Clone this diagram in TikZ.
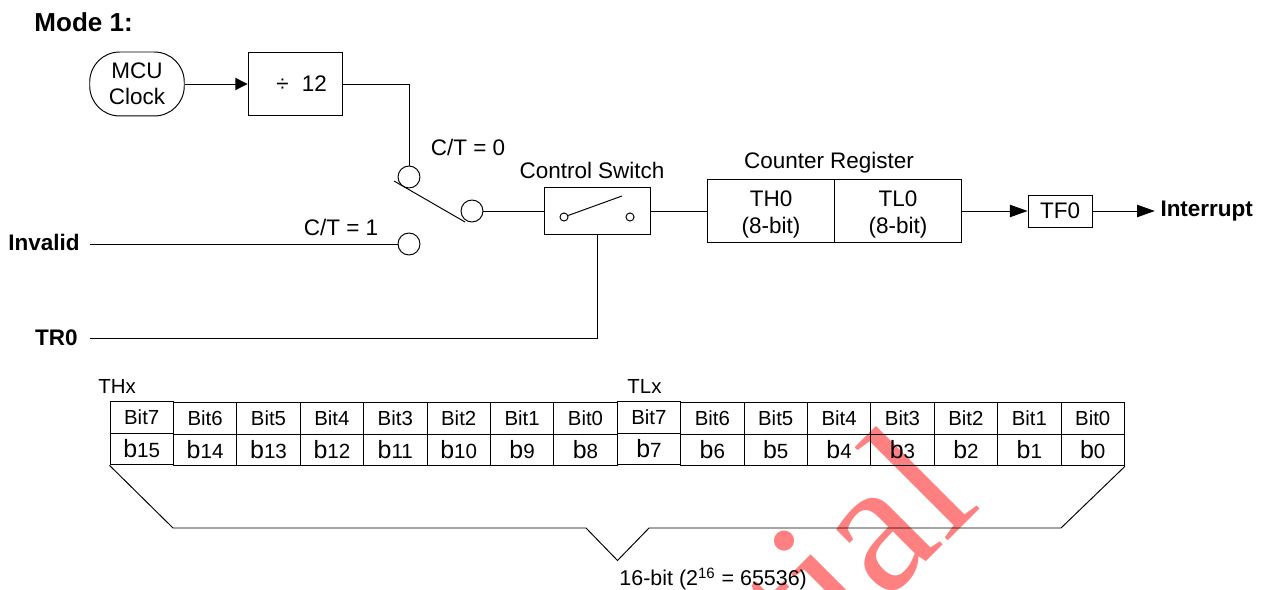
\documentclass[tikz,border=0pt]{standalone}
\usepackage{fontspec}
\setmainfont{Liberation Sans}
\newfontfamily\wmfont{Liberation Serif}
\usetikzlibrary{arrows.meta}
\tikzset{
  lbl/.style={inner sep=0pt,font=\fontsize{12.8pt}{15.5pt}\selectfont,align=center},
  bold/.style={inner sep=0pt,font=\fontsize{12.8pt}{15pt}\selectfont\bfseries},
  pin/.style={draw,circle,inner sep=0pt,minimum size=12.5pt},
  dot/.style={draw,circle,inner sep=0pt,minimum size=4.6pt},
  cell/.style={draw,inner sep=0pt,minimum width=36.1pt,minimum height=18.1pt},
  tip/.style={-{Triangle[length=7pt,width=7pt]}},
  longtip/.style={-{Triangle[length=10pt,width=7pt]}}
}
\newcommand{\bsub}[2]{{\fontsize{14.2pt}{16pt}\selectfont#1}{\fontsize{11.7pt}{14pt}\selectfont#2}}
\begin{document}
\begin{tikzpicture}[x=0.02cm,y=-0.02cm,line width=0.55pt]
  \useasboundingbox (0,0) rectangle (1266,590);
  \begin{scope}
    \clip (0,0) rectangle (1266,590);
    \node[rotate=45,inner sep=0pt,text=red!50,font=\fontsize{108pt}{108pt}\selectfont\wmfont] (wmark) at (851,546) {tial};
  \end{scope}
  % top row
  \node[bold,font=\fontsize{14.8pt}{17pt}\selectfont\bfseries,anchor=west] (mode) at (34,22) {Mode 1:};
  \node[draw,rounded corners=17pt,minimum width=53.8pt,minimum height=36.4pt,inner sep=0pt,lbl,font=\fontsize{12.8pt}{14.6pt}\selectfont] (clock) at (137,84) {MCU\\Clock};
  \node[draw,minimum width=54pt,minimum height=36.4pt,inner sep=0pt,lbl] (div) at (295.5,84) {\hspace{7pt}÷\hspace{4pt} 12};
  \draw[tip] (clock)--(div);
  % selector
  \node[pin] (pin0) at (409,177) {};
  \node[pin] (pin1) at (409,244) {};
  \node[pin] (pinout) at (472,211) {};
  \coordinate (levera) at (394,181);
  \coordinate (leverb) at (465,222);
  \draw (levera)--(leverb);
  \draw (div.east)-|(pin0.north);
  \node[lbl] (ct0) at (468,147) {C/T = 0};
  \node[lbl] (ct1) at (341,227) {C/T = 1};
  \node[bold,anchor=east] (invalid) at (80,242) {Invalid};
  \node[bold,anchor=east] (tr0) at (78,338) {TR0};
  \coordinate (invalidl) at (90,244);
  \coordinate (tr0l) at (90,338);
  \draw (invalidl)--(pin1);
  % control switch
  \node[draw,minimum width=60.3pt,minimum height=27.3pt,inner sep=0pt] (ctrl) at (597,211) {};
  \node[lbl,anchor=south] (ctrltxt) at (592,179) {Control Switch};
  \node[dot] (swa) at (564,217) {};
  \node[dot] (swb) at (630,217) {};
  \coordinate (swc) at (622,196);
  \draw (swa)--(swc);
  \draw (pinout)--(ctrl);
  \draw (tr0l)-|(ctrl.south);
  % counter
  \node[draw,minimum width=72.3pt,minimum height=35.8pt,inner sep=0pt,lbl] (th0) at (771,211) {\rule{0pt}{12.5pt}TH0\\(8-bit)};
  \node[draw,minimum width=72.3pt,minimum height=35.8pt,inner sep=0pt,lbl] (tl0) at (898,211) {\rule{0pt}{12.5pt}TL0\\(8-bit)};
  \node[lbl] (cnttxt) at (829,163) {Counter Register};
  \node[draw,minimum width=36.4pt,minimum height=18.2pt,inner sep=0pt,lbl] (tf0) at (1060,211) {TF0};
  \node[bold,anchor=west] (irq) at (1160,211) {Interrupt};
  \draw (ctrl)--(th0);
  \draw[longtip] (tl0)--(tf0);
  \draw[longtip,shorten >=3pt] (tf0)--(irq);
  % bit table
  \node[lbl,anchor=west,font=\fontsize{11.6pt}{14pt}\selectfont] (thx) at (98,386) {THx};
  \node[lbl,anchor=west,font=\fontsize{11.6pt}{14pt}\selectfont] (tlx) at (627,386) {TLx};
  \foreach \n/\t/\d/\y in {15/7/0/-1,14/6/1/0,13/5/2/0,12/4/3/0,11/3/4/0,10/2/5/0,9/1/6/0,8/0/7/0,7/7/8/-1,6/6/9/0,5/5/10/0,4/4/11/0,3/3/12/0,2/2/13/0,1/1/14/0,0/0/15/0}{
    \node[cell,font=\fontsize{11.6pt}{14pt}\selectfont] (bit\n) at ({141.7+63.4*\d},{418.5+\y}) {Bit\t};
    \node[cell] (b\n) at ({141.7+63.4*\d},{450+\y}) {\bsub{b}{\n}};
  }
  % brace
  \coordinate (bra) at (173,528);
  \coordinate (brb) at (586,528);
  \coordinate (brc) at (617.5,560.5);
  \coordinate (brd) at (649,528);
  \coordinate (bre) at (1061,528);
  \draw (b15.south west)--(bra)--(brb)--(brc)--(brd)--(bre)--(b0.south east);
  \node[lbl,anchor=west,font=\fontsize{12.2pt}{14pt}\selectfont] (total) at (619,579) {16-bit (2\textsuperscript{16} = 65536)};
\end{tikzpicture}
\end{document}
